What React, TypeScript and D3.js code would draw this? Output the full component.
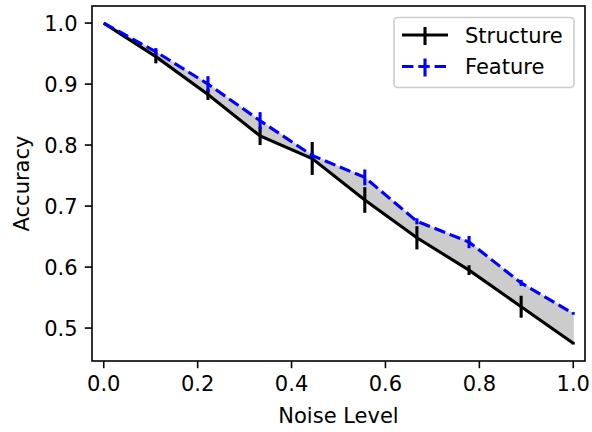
import React from "react";
import * as d3 from "d3";

const noiseLevels = [0, 0.111, 0.222, 0.333, 0.444, 0.556, 0.667, 0.778, 0.889, 1.0];
const structureMean = [1.0, 0.945, 0.883, 0.815, 0.778, 0.710, 0.648, 0.595, 0.535, 0.475];
const structureErr = [0, 0.011, 0.009, 0.015, 0.027, 0.021, 0.019, 0.008, 0.018, 0.002];
const featureMean = [1.0, 0.953, 0.9, 0.84, 0.783, 0.747, 0.675, 0.641, 0.574, 0.524];
const featureErr = [0, 0.006, 0.013, 0.014, 0.005, 0.013, 0.005, 0.01, 0.005, 0.002];
const xTicks = [0, 0.2, 0.4, 0.6, 0.8, 1.0];
const yTicks = [0.5, 0.6, 0.7, 0.8, 0.9, 1.0];
const seriesNames = ["Structure", "Feature"];

const W = 592;
const H = 432;
const L = 92, R = 585, T = 6, B = 361;
const FONT = "DejaVu Sans, sans-serif";
const FS = 21;

export default function App() {
  const x = d3.scaleLinear().domain([-0.025, 1.025]).range([L, R]);
  const y = d3.scaleLinear().domain([0.446, 1.028]).range([B, T]);

  const sData = noiseLevels.map((v, i) => ({ x: v, y: structureMean[i], e: structureErr[i] }));
  const fData = noiseLevels.map((v, i) => ({ x: v, y: featureMean[i], e: featureErr[i] }));

  const line = d3
    .line<{ x: number; y: number }>()
    .x((d) => x(d.x))
    .y((d) => y(d.y));

  const area = d3
    .area<number>()
    .x((_, i) => x(noiseLevels[i]))
    .y0((_, i) => y(structureMean[i]))
    .y1((_, i) => y(featureMean[i]));

  const lw = 3.1;
  const tickLen = 7.2;
  const pad = 7.2;

  return (
    <svg width={W} height={H} style={{ position: "absolute", left: 0, top: 0 }} fontFamily={FONT}>
      <rect x={0} y={0} width={W} height={H} fill="white" />
      <path d={area(noiseLevels) || ""} fill="#cccccc" stroke="#cccccc" strokeWidth={1} />
      {/* Structure */}
      <path d={line(sData) || ""} fill="none" stroke="black" strokeWidth={lw} />
      {sData.map((d, i) =>
        d.e > 0 ? (
          <line key={"se" + i} x1={x(d.x)} x2={x(d.x)} y1={y(d.y - d.e)} y2={y(d.y + d.e)} stroke="black" strokeWidth={lw} />
        ) : null
      )}
      {/* Feature */}
      <path d={line(fData) || ""} fill="none" stroke="#0000ff" strokeWidth={lw} strokeDasharray="11.4,4.9" />
      {fData.map((d, i) =>
        d.e > 0 ? (
          <line key={"fe" + i} x1={x(d.x)} x2={x(d.x)} y1={y(d.y - d.e)} y2={y(d.y + d.e)} stroke="#0000ff" strokeWidth={lw} />
        ) : null
      )}
      {/* spines */}
      <rect x={L} y={T} width={R - L} height={B - T} fill="none" stroke="black" strokeWidth={1.6} />
      {/* x ticks */}
      {xTicks.map((t) => (
        <g key={"xt" + t}>
          <line x1={x(t)} x2={x(t)} y1={B} y2={B + tickLen} stroke="black" strokeWidth={1.6} />
          <text x={x(t)} y={B + tickLen + pad} dy="0.76em" textAnchor="middle" fontSize={FS} fill="black">
            {t.toFixed(1)}
          </text>
        </g>
      ))}
      {yTicks.map((t) => (
        <g key={"yt" + t}>
          <line x1={L} x2={L - tickLen} y1={y(t)} y2={y(t)} stroke="black" strokeWidth={1.6} />
          <text x={L - tickLen - pad} y={y(t)} dy="0.36em" textAnchor="end" fontSize={FS} fill="black">
            {t.toFixed(1)}
          </text>
        </g>
      ))}
      <text x={(L + R) / 2} y={423} textAnchor="middle" fontSize={FS} fill="black">
        Noise Level
      </text>
      <text
        transform={`translate(29, ${(T + B) / 2}) rotate(-90)`}
        textAnchor="middle"
        fontSize={FS}
        fill="black"
      >
        Accuracy
      </text>
      {/* legend */}
      <rect x={394} y={17.5} width={180} height={70} rx={4} fill="white" fillOpacity={0.8} stroke="#cccccc" strokeWidth={1.6} />
      <line x1={402} x2={448} y1={35} y2={35} stroke="black" strokeWidth={lw} />
      <line x1={425} x2={425} y1={27} y2={45} stroke="black" strokeWidth={lw} />
      <text x={465} y={35} dy="0.36em" fontSize={FS} fill="black">
        {seriesNames[0]}
      </text>
      <line x1={402} x2={448} y1={66.5} y2={66.5} stroke="#0000ff" strokeWidth={lw} strokeDasharray="11.4,4.9" />
      <line x1={425} x2={425} y1={58.5} y2={76.5} stroke="#0000ff" strokeWidth={lw} />
      <text x={465} y={66.5} dy="0.36em" fontSize={FS} fill="black">
        {seriesNames[1]}
      </text>
    </svg>
  );
}
